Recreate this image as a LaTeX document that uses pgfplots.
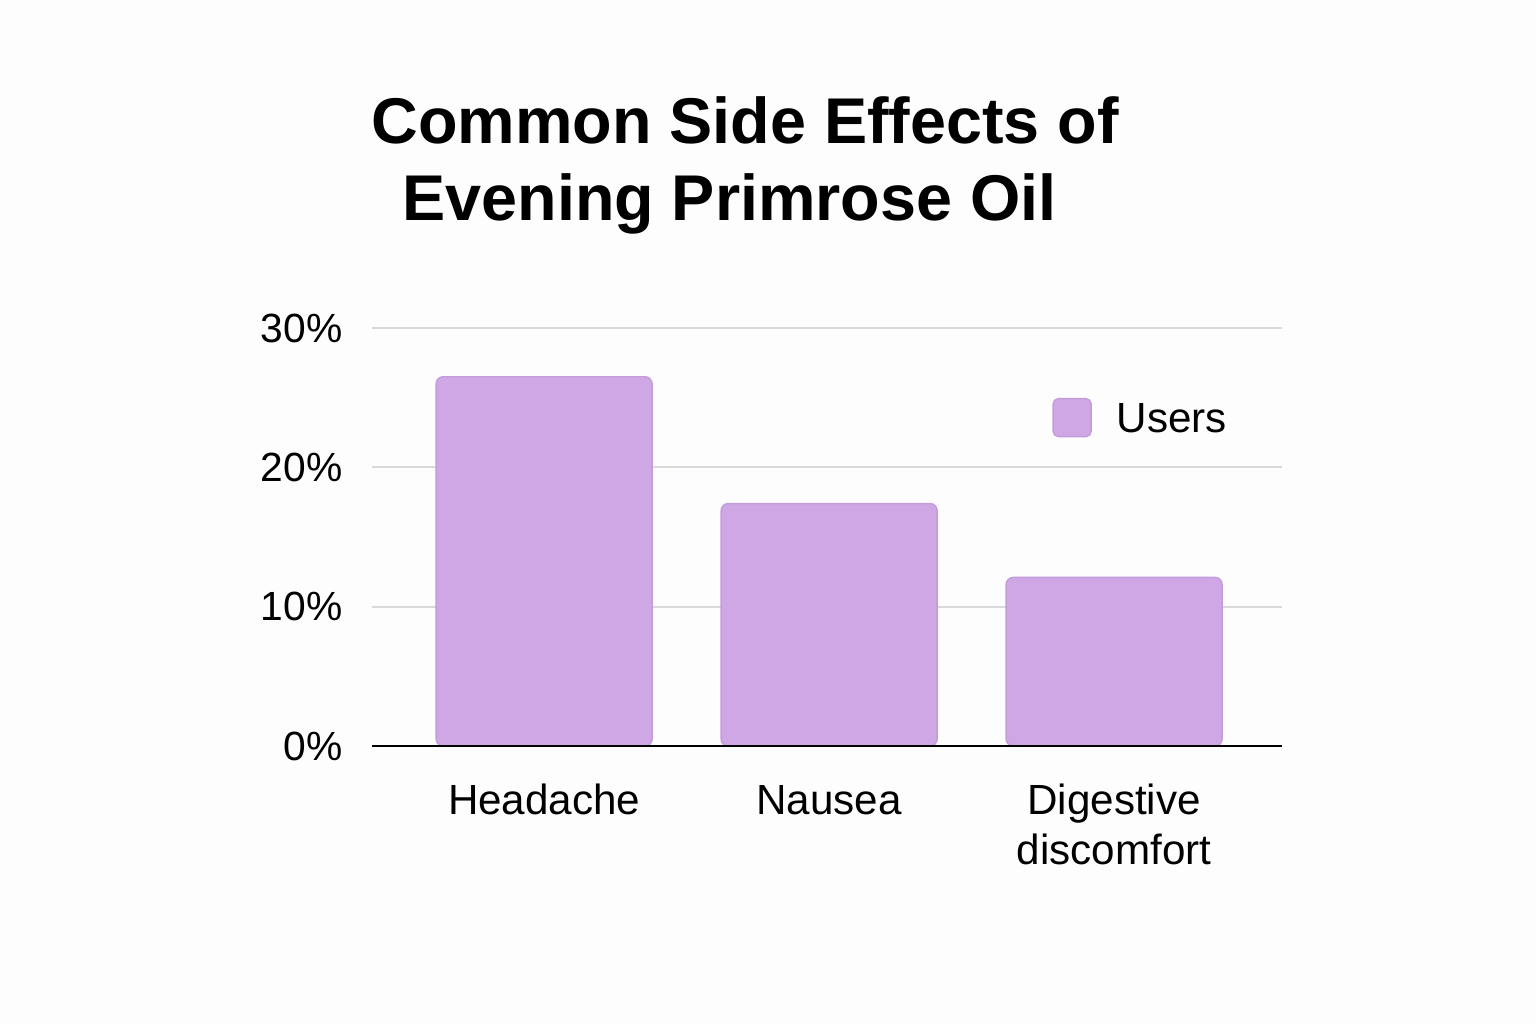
\documentclass[border=0pt]{standalone}
\usepackage{pgfplots}
\pgfplotsset{compat=1.18}
\usepackage{fontspec}
\setmainfont{Liberation Sans}
\definecolor{barfill}{HTML}{CFA7E4}
\definecolor{baredge}{HTML}{C39CDC}
\definecolor{gridc}{HTML}{D9D9D9}
\definecolor{bg}{HTML}{FDFDFD}
\begin{document}
\begin{tikzpicture}
\fill[bg] (0,0) rectangle (15.36cm,10.24cm);
\path[use as bounding box] (0,0) rectangle (15.36cm,10.24cm);
\node[font={\fontsize{18.4}{22}\selectfont\bfseries}, anchor=base] at (7.45cm,8.80cm) {Common Side Effects of};
\node[font={\fontsize{18.4}{22}\selectfont\bfseries}, anchor=base] at (7.295cm,8.03cm) {Evening Primrose Oil};
\begin{axis}[
  at={(3.72cm,2.78cm)}, anchor=south west,
  scale only axis, width=9.10cm, height=4.18cm,
  xmin=-0.604, xmax=2.589, ymin=0, ymax=30,
  ytick={0,10,20,30}, yticklabels={0\%,10\%,20\%,30\%},
  xtick={0,1,2}, xticklabels={\strut Headache,\strut Nausea,{\strut Digestive\\discomfort}},
  major tick length=0pt,
  axis x line*=bottom, axis y line*=left,
  x axis line style={black, line width=0.75pt, -},
  y axis line style={draw=none},
  ymajorgrids, grid style={gridc, line width=0.55pt},
  clip=false,
  yticklabel style={anchor=east, inner sep=0pt, xshift=-0.29cm, font={\fontsize{11.6}{13}\selectfont}},
  xticklabel style={anchor=north, inner sep=0pt, yshift=-0.33cm, align=center, font={\fontsize{12}{14.2}\selectfont}},
  legend style={at={(0.747,0.785)}, anchor=west, draw=none, fill=none, inner sep=0pt,
    nodes={inner sep=0pt, inner xsep=0pt, font={\fontsize{12}{14}\selectfont}},
    /tikz/every odd column/.append style={column sep=0.25cm}},
  legend image code/.code={\draw[fill=barfill, draw=baredge, line width=0.4pt, rounded corners=1.5pt] (0cm,-0.16cm) rectangle (0.38cm,0.22cm);},
]
\addplot[ybar, bar width=2.16cm, fill=barfill, draw=baredge, line width=0.4pt, rounded corners=2pt]
  coordinates {(0,26.5) (1,17.4) (2,12.1)};
\addlegendentry{Users}
\draw[black, line width=0.75pt] (axis cs:-0.604,0) -- (axis cs:2.589,0);
\end{axis}
\end{tikzpicture}
\end{document}
